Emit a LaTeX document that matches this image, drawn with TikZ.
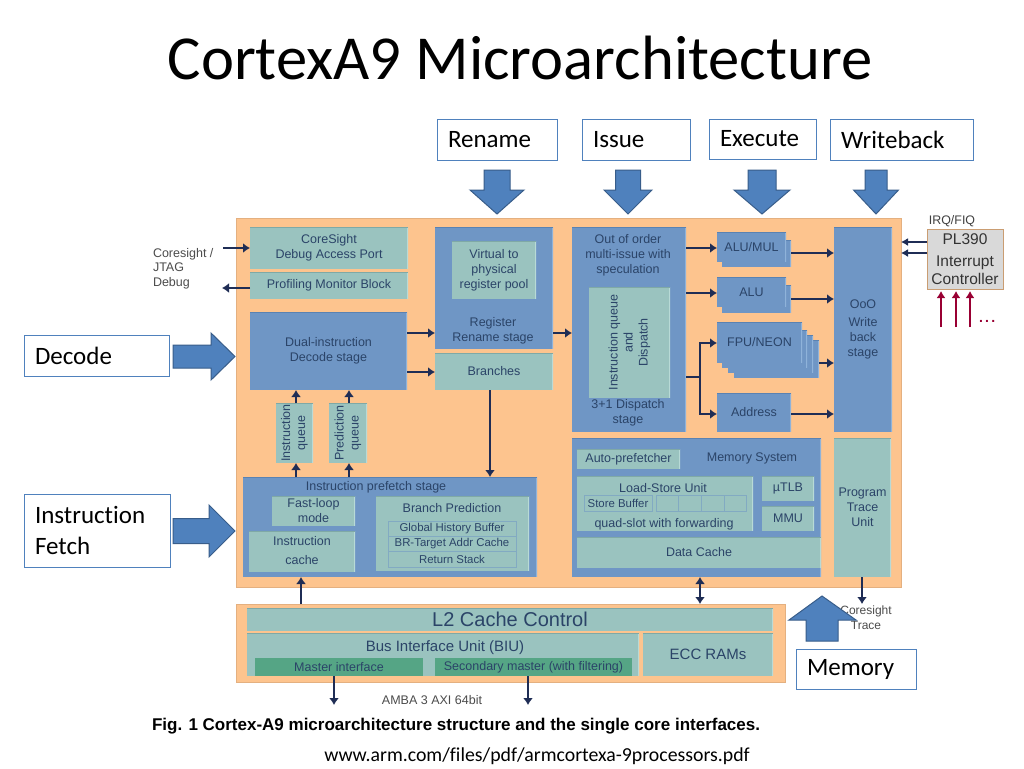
\documentclass[tikz,border=0pt]{standalone}
\usepackage{fontspec}
\setmainfont{Liberation Sans}
\newfontfamily\calfont[Ligatures=CommonOff]{Carlito}
\usetikzlibrary{arrows.meta}
\definecolor{orangebg}{HTML}{FDC48E}
\definecolor{blk}{HTML}{6F96C5}
\definecolor{blklight}{HTML}{8FB3DA}
\definecolor{blkdark}{HTML}{5A82B2}
\definecolor{tealb}{HTML}{9AC3BF}
\definecolor{teallight}{HTML}{B8DAD6}
\definecolor{tealdark}{HTML}{7FA9A6}
\definecolor{greenb}{HTML}{55A585}
\definecolor{ink}{HTML}{2B4468}
\definecolor{arrowc}{HTML}{1F2D55}
\definecolor{lbl}{HTML}{4F81BD}
\definecolor{lbledge}{HTML}{385D8A}
\definecolor{redarr}{HTML}{990033}
\tikzset{
  x=1pt,y=-1pt,
  base/.style={inner sep=0pt,outer sep=0pt,align=center,text=ink,font=\fontsize{12.5}{15}\selectfont},
  edged/.style n args={2}{path picture={
     \draw[line width=2pt,#1] (path picture bounding box.north east) -- (path picture bounding box.south east);
     \draw[line width=2pt,#2] (path picture bounding box.north west) -- (path picture bounding box.north east);}},
  blue box/.style={base,fill=blk,edged={blklight}{blkdark}},
  teal box/.style={base,fill=tealb,edged={teallight}{tealdark}},
  green box/.style={base,fill=greenb},
  thin row/.style={base,fill=tealb,draw=blk!55!tealb,line width=.5pt,font=\fontsize{11.4}{13}\selectfont},
  plain/.style={base},
  label box/.style={inner ysep=0pt,inner xsep=11pt,outer sep=0pt,draw=lbl,line width=.7pt,fill=white,align=left,text=black,font=\calfont\fontsize{25}{31}\selectfont},
  arr/.style={draw=arrowc,line width=2.3pt,-{Latex[length=7pt,width=10pt]}},
  thinarr/.style={draw=arrowc,line width=1.3pt,-{Latex[length=7pt,width=8pt]}},
  dblarr/.style={draw=arrowc,line width=2.3pt,{Latex[length=7pt,width=10pt]}-{Latex[length=7pt,width=10pt]}},
  redar/.style={draw=redarr,line width=2.6pt,shorten >=2pt,-{Latex[length=7pt,width=9pt]}},
  block/.style={fill=lbl,draw=lbledge,line width=1pt},
}
\newcommand\bx[7]{%
  \pgfmathsetmacro\bw{#4-#2}\pgfmathsetmacro\bh{#5-#3}%
  \node[#6,anchor=north west,minimum width=\bw pt,minimum height=\bh pt] (#1) at (#2,#3) {#7};}
\newcommand\lb[6]{%
  \pgfmathsetmacro\bw{#4-#2-22}\pgfmathsetmacro\bh{#5-#3}%
  \node[label box,anchor=north west,text width=\bw pt,minimum height=\bh pt] (#1) at (#2,#3) {#6};}
\newcommand\tx[5]{\node[plain,#4] (#1) at (#2,#3) {#5};}
\newcommand\bdown[6]{% tip x, tip y, half head, half shaft, head base y, top y
  \pgfmathsetmacro\ha{#1-#3}\pgfmathsetmacro\hb{#1+#3}\pgfmathsetmacro\sa{#1-#4}\pgfmathsetmacro\sb{#1+#4}%
  \draw[block] (\sa,#6) -- (\sb,#6) -- (\sb,#5) -- (\hb,#5) -- (#1,#2) -- (\ha,#5) -- (\sa,#5) -- cycle;}
\newcommand\bright[6]{% tip x, tip y, half head, half shaft, head base x, left x
  \pgfmathsetmacro\ha{#2-#3}\pgfmathsetmacro\hb{#2+#3}\pgfmathsetmacro\sa{#2-#4}\pgfmathsetmacro\sb{#2+#4}%
  \draw[block] (#6,\sa) -- (#6,\sb) -- (#5,\sb) -- (#5,\hb) -- (#1,#2) -- (#5,\ha) -- (#5,\sa) -- cycle;}
\begin{document}
\begin{tikzpicture}
\useasboundingbox (0,0) rectangle (1024,768);
\fill[white] (0,0) rectangle (1024,768);
% title
\node[inner sep=0pt,text=black,font=\calfont\fontsize{62.6}{64}\selectfont] (title) at (520,58) {CortexA9 Microarchitecture};
% core background
\bx{core}{236}{218}{901}{587}{base,fill=orangebg,draw=orangebg!90!black,line width=.5pt}{}
\bx{l2}{236}{604}{785}{682}{base,fill=orangebg,draw=orangebg!90!black,line width=.5pt}{}
% left column
\bx{dap}{250}{227}{408}{269}{teal box}{CoreSight\\Debug Access Port}
\bx{pmb}{250}{272}{408}{299}{teal box}{Profiling Monitor Block}
\bx{dec}{250}{312}{407}{390}{blue box}{Dual-instruction\\Decode stage}
\bx{iq}{276}{403}{313}{463}{teal box}{\rotatebox{90}{\begin{tabular}{@{}c@{}}Instruction\\queue\end{tabular}}}
\bx{pq}{329}{403}{367}{463}{teal box}{\rotatebox{90}{\begin{tabular}{@{}c@{}}Prediction\\queue\end{tabular}}}
% rename
\bx{ren}{435}{227}{553}{349}{blue box}{}
\bx{vreg}{452}{241}{536}{299}{teal box}{Virtual to\\physical\\register pool}
\tx{rentxt}{493}{331}{}{Register\\Rename stage}
\bx{bra}{435}{353}{553}{390}{teal box}{Branches}
% prefetch
\bx{pre}{243}{477}{537}{577}{blue box}{}
\tx{pretxt}{376}{487}{}{Instruction prefetch stage}
\bx{fast}{272}{496}{355}{526}{teal box}{Fast-loop\\mode}
\bx{ica}{249}{531}{355}{572}{teal box}{\begin{tabular}{@{}c@{}}Instruction\\[4pt]cache\end{tabular}}
\bx{bp}{376}{496}{529}{571}{teal box}{}
\tx{bptxt}{452}{508}{}{Branch Prediction}
\bx{ghb}{388}{521}{516}{536}{thin row}{Global History Buffer}
\bx{btac}{388}{536}{516}{551}{thin row}{BR-Target Addr Cache}
\bx{rst}{388}{551}{516}{567}{thin row}{Return Stack}
% dispatch
\bx{dis}{572}{227}{686}{432}{blue box}{}
\tx{distop}{628}{255}{}{Out of order\\multi-issue with\\speculation}
\bx{disq}{589}{287}{670}{398}{teal box}{\rotatebox{90}{\begin{tabular}{@{}c@{}}Instruction queue\\and\\Dispatch\end{tabular}}}
\tx{disbot}{628}{413}{}{3+1 Dispatch\\stage}
% execution units
\bx{aluma}{722}{240}{791}{267}{blue box}{}
\bx{alum}{717}{232}{786}{262}{blue box}{ALU/MUL}
\bx{aluba}{722}{285}{791}{313}{blue box}{}
\bx{alu}{717}{277}{786}{307}{blue box}{ALU}
\bx{fpud}{734}{340}{819}{378}{blue box}{}
\bx{fpuc}{728}{335}{813}{373}{blue box}{}
\bx{fpub}{722}{330}{807}{368}{blue box}{}
\bx{fpu}{717}{322}{802}{363}{blue box}{FPU/NEON}
\bx{addr}{717}{393}{791}{432}{blue box}{Address}
\bx{ooo}{834}{227}{892}{432}{blue box}{OoO\\[3pt]Write\\back\\stage}
% memory system
\bx{mem}{572}{438}{821}{577}{blue box}{}
\bx{auto}{577}{449}{680}{469}{teal box}{Auto-prefetcher}
\tx{memtxt}{752}{458}{}{Memory System}
\bx{lsu}{577}{476}{753}{531}{teal box}{}
\tx{lsutxt}{663}{488}{}{Load-Store Unit}
\bx{sb}{584}{495}{652}{511}{thin row}{Store Buffer}
\bx{sc1}{656}{495}{678}{511}{thin row}{}
\bx{sc2}{678}{495}{701}{511}{thin row}{}
\bx{sc3}{701}{495}{724}{511}{thin row}{}
\bx{sc4}{724}{495}{746}{511}{thin row}{}
\tx{quad}{664}{524}{}{quad-slot with forwarding}
\bx{utlb}{762}{476}{814}{501}{teal box}{µTLB}
\bx{mmu}{762}{506}{814}{531}{teal box}{MMU}
\bx{dc}{577}{537}{821}{568}{teal box}{Data Cache}
\bx{ptu}{834}{438}{891}{577}{teal box}{Program\\Trace\\Unit}
% L2
\bx{l2c}{247}{608}{773}{631}{teal box}{\fontsize{20}{22}\selectfont L2 Cache Control}
\bx{biu}{247}{633}{639}{676}{teal box}{}
\tx{biutxt}{445}{648}{}{\fontsize{15}{17}\selectfont Bus Interface Unit (BIU)}
\bx{ecc}{643}{633}{773}{676}{teal box}{\fontsize{15}{17}\selectfont ECC RAMs}
\bx{mi}{255}{658}{423}{676}{green box}{Master interface}
\bx{smi}{435}{658}{632}{676}{green box}{Secondary master (with filtering)}
% PL390
\bx{pl}{927}{229}{1003}{289}{base,fill=black!15,draw=orangebg!80!black,line width=1pt,text=black!80,font=\fontsize{15.5}{18}\selectfont}{PL390\\[4pt]Interrupt\\Controller}
\tx{irq}{952}{221}{text=black!75,font=\fontsize{12.4}{14}\selectfont}{IRQ/FIQ}
\node[plain,anchor=base west,text=redarr,font=\bfseries\fontsize{14}{15}\selectfont] (dots) at (979,322) {.\,.\,.};
% side text
\node[plain,anchor=west,align=left,text=black!70,font=\fontsize{12.5}{14.5}\selectfont] (jtag) at (153,268.5) {Coresight /\\JTAG\\Debug};
\coordinate (jin) at (223,248);
\coordinate (jout) at (222,288);
\tx{amba}{432}{700}{text=black!70,font=\fontsize{12.5}{14}\selectfont}{AMBA 3 AXI 64bit}
\tx{trace}{866}{618}{text=black!70,font=\fontsize{12}{15}\selectfont}{Coresight\\Trace}
\coordinate (m1) at (334,705);
\coordinate (m2) at (528,705);
\node[plain,anchor=west,text=black,font=\bfseries\fontsize{17}{18}\selectfont] (cap) at (152,726) {Fig. 1 Cortex-A9 microarchitecture structure and the single core interfaces.};
\node[inner sep=0pt,text=black,font=\calfont\fontsize{19.8}{21}\selectfont] (url) at (537,756) {www.arm.com/files/pdf/armcortexa-9processors.pdf};
% connectors
\draw[arr] (jin) -- (dap.west |- jin);
\draw[arr] (pmb.west |- jout) -- (jout);
\draw[arr] (dec.east |- 0,333) -- (ren.west |- 0,333);
\draw[arr] (dec.east |- 0,372) -- (bra.west |- 0,372);
\draw[arr] (ren.east |- 0,333) -- (dis.west |- 0,333);
\draw[arr] (bra.south -| 490,0) -- (pre.north -| 490,0);
\draw[arr] (iq.north -| 296,0) -- (dec.south -| 296,0);
\draw[arr] (pq.north -| 349,0) -- (dec.south -| 349,0);
\draw[arr] (pre.north -| 296,0) -- (iq.south -| 296,0);
\draw[arr] (pre.north -| 349,0) -- (pq.south -| 349,0);
\draw[arr] (dis.east |- 0,248) -- (alum.west |- 0,248);
\draw[arr] (dis.east |- 0,293) -- (alu.west |- 0,293);
\draw[arr] (aluma.east |- 0,253) -- (ooo.west |- 0,253);
\draw[arr] (aluba.east |- 0,299) -- (ooo.west |- 0,299);
\draw[arr] (fpud.east |- 0,363) -- (ooo.west |- 0,363);
\draw[arr] (addr.east |- 0,414) -- (ooo.west |- 0,414);
\draw[arr] (dis.east |- 0,377) -- (700,377) |- (fpu.west |- 0,343);
\draw[arr] (dis.east |- 0,377) -- (700,377) |- (addr.west |- 0,414);
\draw[arr] (l2.north -| 301,0) -- (pre.south -| 301,0);
\draw[dblarr] (l2.north -| 700,0) -- (mem.south -| 700,0);
\draw[arr] (ptu.south -| 862,0) -- (l2.north -| 862,0);
\draw[arr] (mi.south -| m1) -- (m1);
\draw[arr] (smi.south -| m2) -- (m2);
\draw[thinarr] (pl.west |- 0,242) -- (core.east |- 0,242);
\draw[thinarr] (pl.west |- 0,253) -- (core.east |- 0,253);
\draw[redar] (941,327) -- (pl.south -| 941,0);
\draw[redar] (956,327) -- (pl.south -| 956,0);
\draw[redar] (970,327) -- (pl.south -| 970,0);
% callouts
\lb{lren}{437}{119}{557}{160}{Rename}
\lb{liss}{582}{119}{690}{160}{Issue}
\lb{lexe}{709}{119}{816}{159}{Execute}
\lb{lwb}{830}{119}{973}{160}{Writeback}
\lb{ldec}{24}{335}{169}{376}{Decode}
\lb{lif}{24}{494}{170}{567}{Instruction\\Fetch}
\lb{lmem}{796}{649}{916}{689}{\raisebox{-1.5pt}{Memory}}
\bdown{497}{214}{27}{13}{190}{170}
\bdown{628}{214}{24}{12.5}{190}{170}
\bdown{762}{214}{28}{14}{190}{170}
\bdown{876}{214}{22.5}{11}{190}{170}
\bright{235}{356.5}{23.5}{11.5}{211}{173}
\bright{235}{531}{26}{12.5}{209}{173}
% memory arrow (up)
\draw[block] (806,641) -- (838,641) -- (838,620) -- (856,620) -- (822,596) -- (789,620) -- (806,620) -- cycle;
\end{tikzpicture}
\end{document}
